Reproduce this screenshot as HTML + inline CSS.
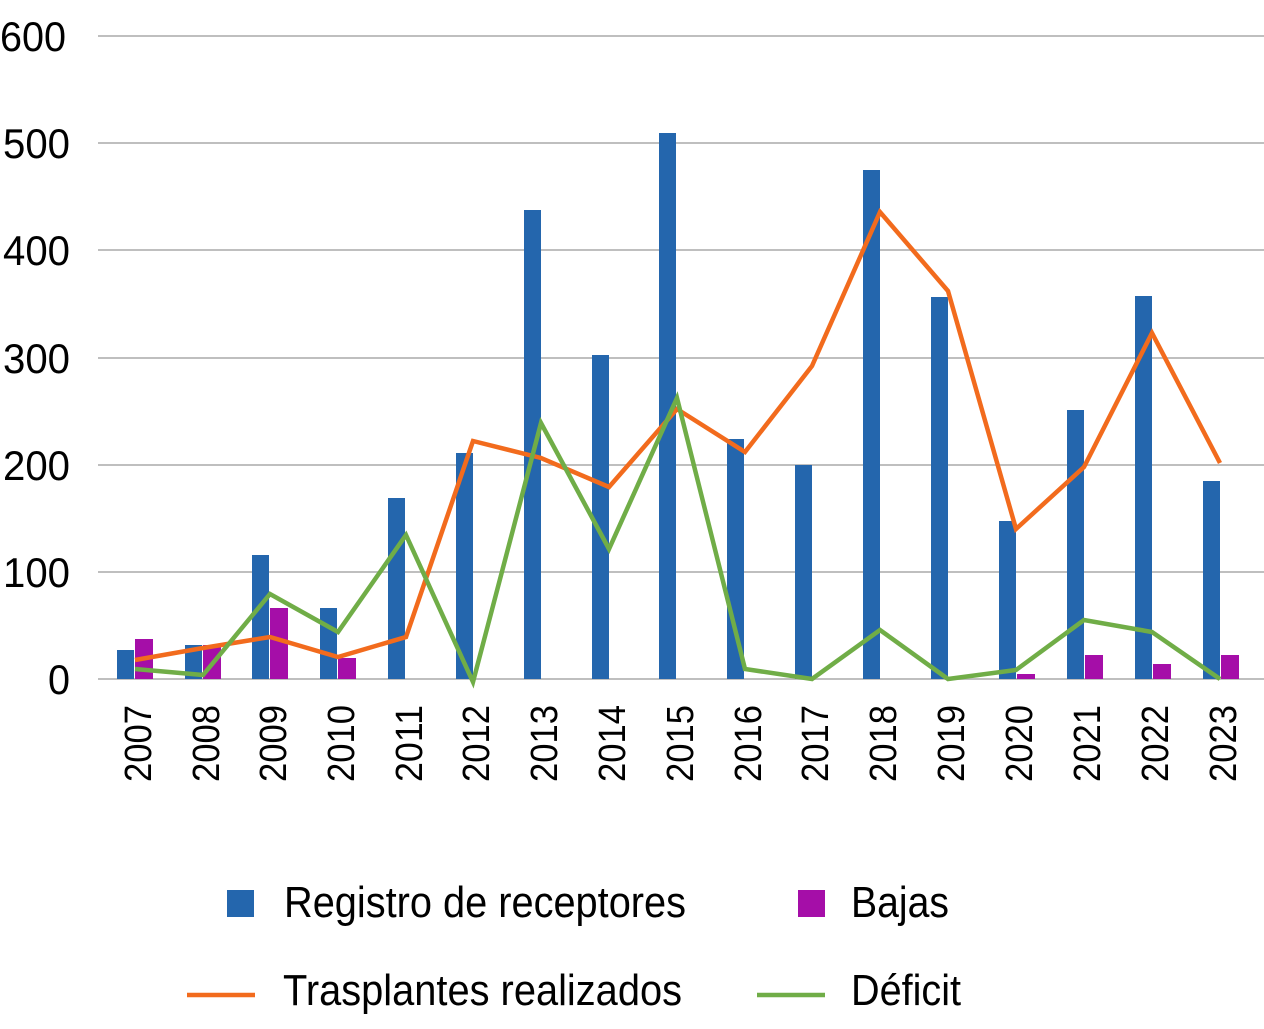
<!DOCTYPE html>
<html><head><meta charset="utf-8"><style>
html,body{margin:0;padding:0;background:#fff;}
text{font-family:"Liberation Sans Narrow","Liberation Sans",sans-serif;fill:#000;}
</style></head><body>
<svg width="1264" height="1024" viewBox="0 0 1264 1024" xmlns="http://www.w3.org/2000/svg">
<g stroke="#bfbfbf" stroke-width="2">
<line x1="98" y1="36" x2="1264" y2="36"/><line x1="98" y1="143" x2="1264" y2="143"/>
<line x1="98" y1="250" x2="1264" y2="250"/><line x1="98" y1="358" x2="1264" y2="358"/>
<line x1="98" y1="465" x2="1264" y2="465"/><line x1="98" y1="572" x2="1264" y2="572"/>
<line x1="98" y1="679" x2="1264" y2="679"/>
</g>
<g font-size="42">
<text x="0" y="51" textLength="66" lengthAdjust="spacingAndGlyphs">600</text>
<text x="3" y="158" textLength="67" lengthAdjust="spacingAndGlyphs">500</text>
<text x="3" y="265" textLength="67" lengthAdjust="spacingAndGlyphs">400</text>
<text x="3" y="373" textLength="67" lengthAdjust="spacingAndGlyphs">300</text>
<text x="3" y="480" textLength="67" lengthAdjust="spacingAndGlyphs">200</text>
<text x="3" y="587" textLength="67" lengthAdjust="spacingAndGlyphs">100</text>
<text x="48" y="694" textLength="22" lengthAdjust="spacingAndGlyphs">0</text>
</g>
<g fill="#2466ad">
<rect x="117" y="650" width="17" height="29"/><rect x="185" y="645" width="17" height="34"/>
<rect x="252" y="555" width="17" height="124"/><rect x="320" y="608" width="17" height="71"/>
<rect x="388" y="498" width="17" height="181"/><rect x="456" y="453" width="17" height="226"/>
<rect x="524" y="210" width="17" height="469"/><rect x="592" y="355" width="17" height="324"/>
<rect x="659" y="133" width="17" height="546"/><rect x="727" y="439" width="17" height="240"/>
<rect x="795" y="465" width="17" height="214"/><rect x="863" y="170" width="17" height="509"/>
<rect x="931" y="297" width="17" height="382"/><rect x="999" y="521" width="17" height="158"/>
<rect x="1067" y="410" width="17" height="269"/><rect x="1135" y="296" width="17" height="383"/>
<rect x="1203" y="481" width="17" height="198"/>
</g>
<g fill="#a50ea8">
<rect x="135" y="639" width="18" height="40"/><rect x="203" y="645" width="18" height="34"/>
<rect x="270" y="608" width="18" height="71"/><rect x="338" y="658" width="18" height="21"/>
<rect x="1017" y="674" width="18" height="5"/><rect x="1085" y="655" width="18" height="24"/>
<rect x="1153" y="664" width="18" height="15"/><rect x="1221" y="655" width="18" height="24"/>
</g>
<polyline fill="none" stroke="#f26b1d" stroke-width="4.5" points="135,660 203,648 270,637 338,657 406,637 473,441 541,458 609,487 677,409 745,452 812,366 880,212 948,291 1016,529 1084,467 1152,333 1220,463"/>
<polyline fill="none" stroke="#70ad47" stroke-width="4.5" points="135,669 203,675 270,594 338,632 406,535 473,682 541,423 609,549 677,398 745,669 812,679 880,630 948,679 1016,670 1084,620 1152,632 1220,679"/>
<g font-size="38">
<text transform="translate(151,782) rotate(-90)" textLength="77" lengthAdjust="spacingAndGlyphs">2007</text>
<text transform="translate(219,782) rotate(-90)" textLength="77" lengthAdjust="spacingAndGlyphs">2008</text>
<text transform="translate(286,782) rotate(-90)" textLength="77" lengthAdjust="spacingAndGlyphs">2009</text>
<text transform="translate(354,782) rotate(-90)" textLength="77" lengthAdjust="spacingAndGlyphs">2010</text>
<text transform="translate(422,782) rotate(-90)" textLength="77" lengthAdjust="spacingAndGlyphs">2011</text>
<text transform="translate(489,782) rotate(-90)" textLength="77" lengthAdjust="spacingAndGlyphs">2012</text>
<text transform="translate(557,782) rotate(-90)" textLength="77" lengthAdjust="spacingAndGlyphs">2013</text>
<text transform="translate(625,782) rotate(-90)" textLength="77" lengthAdjust="spacingAndGlyphs">2014</text>
<text transform="translate(693,782) rotate(-90)" textLength="77" lengthAdjust="spacingAndGlyphs">2015</text>
<text transform="translate(761,782) rotate(-90)" textLength="77" lengthAdjust="spacingAndGlyphs">2016</text>
<text transform="translate(828,782) rotate(-90)" textLength="77" lengthAdjust="spacingAndGlyphs">2017</text>
<text transform="translate(896,782) rotate(-90)" textLength="77" lengthAdjust="spacingAndGlyphs">2018</text>
<text transform="translate(964,782) rotate(-90)" textLength="77" lengthAdjust="spacingAndGlyphs">2019</text>
<text transform="translate(1032,782) rotate(-90)" textLength="77" lengthAdjust="spacingAndGlyphs">2020</text>
<text transform="translate(1100,782) rotate(-90)" textLength="77" lengthAdjust="spacingAndGlyphs">2021</text>
<text transform="translate(1168,782) rotate(-90)" textLength="77" lengthAdjust="spacingAndGlyphs">2022</text>
<text transform="translate(1236,782) rotate(-90)" textLength="77" lengthAdjust="spacingAndGlyphs">2023</text>
</g>
<rect x="227" y="890" width="27" height="27" fill="#2466ad"/>
<text x="284" y="917" font-size="44" textLength="402" lengthAdjust="spacingAndGlyphs">Registro de receptores</text>
<rect x="798" y="890" width="27" height="27" fill="#a50ea8"/>
<text x="851" y="917" font-size="44" textLength="98" lengthAdjust="spacingAndGlyphs">Bajas</text>
<line x1="187" y1="995" x2="255" y2="995" stroke="#f26b1d" stroke-width="4.5"/>
<text x="283" y="1005" font-size="44" textLength="399" lengthAdjust="spacingAndGlyphs">Trasplantes realizados</text>
<line x1="757" y1="995" x2="825" y2="995" stroke="#70ad47" stroke-width="4.5"/>
<text x="851" y="1005" font-size="44" textLength="110" lengthAdjust="spacingAndGlyphs">Déficit</text>
</svg>
</body></html>
